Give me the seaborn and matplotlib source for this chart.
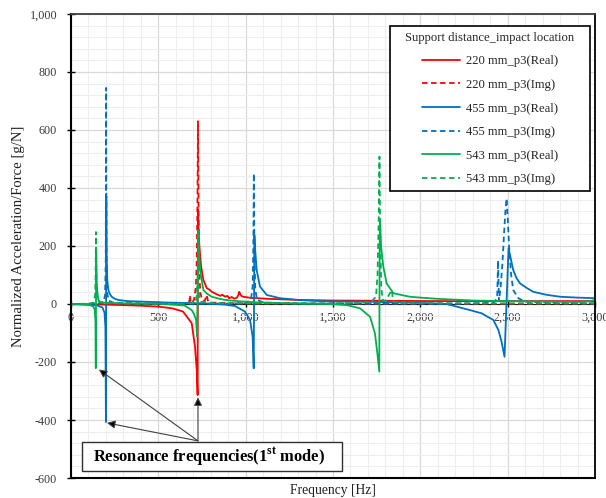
import numpy as np
import pandas as pd
import matplotlib
matplotlib.use("Agg")
import matplotlib.pyplot as plt
import seaborn as sns
from matplotlib.ticker import MultipleLocator, FuncFormatter
from matplotlib.patches import Rectangle

# ---------------- data ----------------
labels = ["220 mm_p3(Real)", "220 mm_p3(Img)", "455 mm_p3(Real)",
          "455 mm_p3(Img)", "543 mm_p3(Real)", "543 mm_p3(Img)"]

f_220_real = [0, 100, 200, 300, 400, 500, 580, 641, 691, 710, 720, 725, 727, 730, 735, 745,
              758, 777, 795, 806, 820, 835, 844, 855, 866, 882, 895, 905, 920, 935, 950,
              958, 963, 968, 975, 985, 997, 1030, 1072, 1120, 1168, 1300, 1500, 1800, 2100,
              2400, 2700, 3000]
v_220_real = [0, -1, -2, -4, -6, -9, -15, -26, -66, -147, -230, -314, 327, 260, 200, 129,
              83, 55, 48, 42, 38, 33, 31, 28, 32, 25, 28, 20, 24, 18, 22,
              31, 42, 35, 28, 25, 24, 21, 20, 18, 17, 14, 12, 11, 10,
              10, 10, 10]

f_220_img = [0, 200, 400, 600, 670, 678, 681, 684, 690, 705, 715, 720, 724, 727, 730, 734,
             740, 750, 765, 777, 785, 800, 850, 900, 1000, 1200, 1600, 2000, 2500, 3000]
v_220_img = [0, 0, 0, 1, 2, 10, 30, 8, 3, 15, 60, 150, 350, 630, 350, 120,
             40, 15, 10, 31, 8, 5, 4, 3, 2, 2, 1, 1, 1, 1]

f_455_real = [0, 100, 150, 180, 192, 197, 200, 202, 204, 208, 214, 222, 233, 250, 271, 320,
              420, 550, 700, 800, 880, 939, 996, 1025, 1040, 1046, 1050, 1053, 1063, 1082,
              1121, 1197, 1300, 1387, 1500, 1674, 1850, 2000, 2150, 2284, 2350, 2418, 2447,
              2465, 2482, 2505, 2520, 2532, 2550, 2571, 2610, 2647, 2720, 2800, 2900, 3000]
v_455_real = [0, -2, -5, -12, -30, -80, -407, 372, 150, 80, 48, 35, 25, 18, 14, 10,
              8, 5, 3, 1, -2, -7, -26, -55, -113, -222, 238, 200, 117, 60,
              31, 20, 14, 11, 9, 8, 6, 4, 0, -21, -32, -55, -90,
              -130, -182, 192, 150, 117, 90, 71, 55, 42, 32, 25, 22, 20]

f_455_img = [0, 150, 185, 195, 199, 201, 203, 207, 215, 240, 400, 700, 900, 1000, 1030,
             1040, 1044, 1047, 1050, 1055, 1065, 1100, 1300, 1700, 2000, 2300, 2420, 2440,
             2445, 2450, 2460, 2470, 2480, 2488, 2494, 2500, 2508, 2520, 2532, 2561, 2600,
             2800, 3000]
v_455_img = [0, 1, 5, 30, 150, 745, 200, 40, 12, 5, 2, 1, 1, 3, 15,
             60, 200, 450, 180, 50, 15, 5, 2, 1, 1, 2, 5, 20,
             150, 10, 60, 140, 250, 330, 364, 300, 198, 100, 48, 20, 8,
             3, 2]

f_543_real = [0, 80, 110, 128, 136, 140, 142, 144, 148, 156, 170, 200, 300, 500, 650, 691,
              705, 716, 722, 726, 729, 733, 739, 758, 780, 806, 850, 882, 950, 1050, 1200,
              1350, 1483, 1580, 1655, 1712, 1740, 1754, 1765, 1767, 1770, 1775, 1788, 1807,
              1846, 1900, 1941, 2000, 2094, 2300, 2600, 2900, 2970, 2990, 3000]
v_543_real = [0, -2, -4, -9, -20, -60, -221, 186, 60, 14, 6, 4, 2, 1, -5, -21,
              -35, -55, -113, 100, 255, 180, 117, 48, 35, 25, 18, 14, 10, 6, 3,
              1, 0, -4, -15, -44, -101, -170, -233, 200, 290, 200, 129, 71,
              37, 30, 25, 22, 18, 12, 9, 7, 9, 13, 9]

f_543_img = [0, 100, 130, 138, 141, 143, 145, 150, 160, 200, 400, 650, 700, 715, 720, 724,
             727, 730, 735, 745, 800, 1000, 1400, 1650, 1720, 1746, 1755, 1762, 1766, 1770,
             1776, 1784, 1800, 1836, 1845, 1900, 2200, 2600, 3000]
v_543_img = [0, 1, 5, 30, 100, 248, 80, 20, 8, 3, 1, 1, 3, 10, 30, 80,
             150, 60, 20, 8, 3, 2, 2, 3, 8, 25, 100, 300, 508, 250,
             60, 14, 10, 48, 8, 3, 2, 2, 2]

series_f = [f_220_real, f_220_img, f_455_real, f_455_img, f_543_real, f_543_img]
series_v = [v_220_real, v_220_img, v_455_real, v_455_img, v_543_real, v_543_img]
colors = ["#FF0000", "#FF0000", "#0070C0", "#0070C0", "#00B050", "#00B050"]
styles = ["-", (0, (3, 2)), "-", (0, (3, 2)), "-", (0, (3, 2))]

x_ticks = [0, 500, 1000, 1500, 2000, 2500, 3000]
y_ticks = [-600, -400, -200, 0, 200, 400, 600, 800, 1000]

# ---------------- style ----------------
sns.set_theme(style="white")
plt.rcParams["font.family"] = ["Liberation Serif", "DejaVu Serif"]
plt.rcParams["mathtext.fontset"] = "custom"
plt.rcParams["mathtext.rm"] = "Liberation Serif"
plt.rcParams["mathtext.bf"] = "Liberation Serif:bold"

fig = plt.figure(figsize=(6.06, 4.98), dpi=100)
ax = fig.add_axes([71 / 606, 20 / 498, 524 / 606, 464 / 498])

for f, v, c, ls, lab in zip(series_f, series_v, colors, styles, labels):
    df = pd.DataFrame({"Frequency": f, "Value": v})
    sns.lineplot(data=df, x="Frequency", y="Value", ax=ax, color=c, linestyle=ls,
                 linewidth=1.3, label=lab, sort=False, estimator=None)

ax.set_xlim(x_ticks[0], x_ticks[-1])
ax.set_ylim(y_ticks[0], y_ticks[-1])
ax.set_xticks(x_ticks)
ax.set_yticks(y_ticks)
ax.xaxis.set_minor_locator(MultipleLocator(100))
ax.yaxis.set_minor_locator(MultipleLocator(40))
fmt = FuncFormatter(lambda val, pos: f"{int(round(val)):,}")
ax.xaxis.set_major_formatter(fmt)
ax.yaxis.set_major_formatter(fmt)

ax.grid(which="major", color="#D9D9D9", linewidth=0.9)
ax.grid(which="minor", color="#EEEEEE", linewidth=0.8)
ax.set_axisbelow(True)

ax.tick_params(which="minor", length=0)
ax.tick_params(axis="y", which="major", direction="inout", length=6, width=1,
               color="black", left=True, labelsize=8.7, pad=7, labelcolor="#3A3A3A")
ax.tick_params(axis="x", which="major", direction="inout", length=5, width=1,
               color="black", bottom=True, labelsize=8.7, pad=3, labelcolor="#3A3A3A")

ax.spines["bottom"].set_position(("data", 0))
ax.spines["bottom"].set_color("#202020")
ax.spines["bottom"].set_linewidth(0.8)
ax.spines["bottom"].set_zorder(1.5)
ax.spines["left"].set_color("black")
ax.spines["left"].set_linewidth(1.5)
ax.spines["right"].set_color("black")
ax.spines["right"].set_linewidth(1.3)
ax.spines["top"].set_color("#404040")
ax.spines["top"].set_linewidth(1.3)
ax.plot([0, 1], [0, 0], transform=ax.transAxes, color="black", lw=1.5,
        clip_on=False, zorder=3)

ax.set_xlabel("Frequency [Hz]", fontsize=9.8, color="#202020")
ax.xaxis.set_label_coords(0.5, -0.012)
ax.set_ylabel("Normalized Acceleration/Force [g/N]", fontsize=10.6, color="#202020")
ax.yaxis.set_label_coords(-0.088, 0.52)

# legend: frame drawn as a rectangle, entries centred inside it
ax.add_patch(Rectangle((0.609, 0.6185), 0.381, 0.3555, transform=ax.transAxes,
                       facecolor="white", edgecolor="black", lw=1.2, zorder=4.5))
leg = ax.legend(title="Support distance_impact location", loc="upper center",
                bbox_to_anchor=(0.7995, 0.962), borderaxespad=0, frameon=False,
                fontsize=9.1, title_fontsize=9.1, handlelength=3.0,
                labelspacing=0.92, borderpad=0.0, handletextpad=0.5)
leg.set_zorder(5)

# annotation box and arrows
ax.add_patch(Rectangle((0.021, 0.015), 0.496, 0.062, transform=ax.transAxes,
                       facecolor="white", edgecolor="#303030", lw=1.0, zorder=4))
ax.text(0.264, 0.046, r"Resonance frequencies(1$^{\mathbf{st}}$ mode)",
        transform=ax.transAxes, ha="center", va="center", fontsize=11.9,
        fontweight="bold", color="black", zorder=5)
tail = (727, -472)
for head in [(160, -226), (206, -410), (727, -322)]:
    ax.annotate("", xy=head, xytext=tail,
                arrowprops=dict(arrowstyle="-|>", color="#404040", lw=0.8,
                                mutation_scale=12, shrinkA=0, shrinkB=0,
                                fc="black", ec="#404040"))

fig.savefig("out.png", dpi=100)
